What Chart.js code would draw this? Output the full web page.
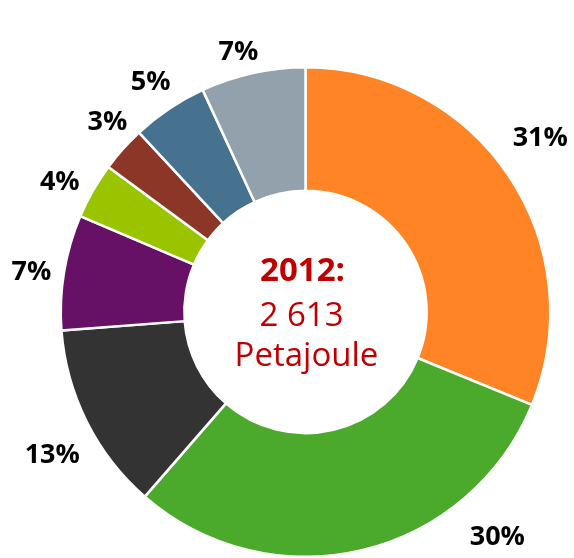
<!DOCTYPE html>
<html>
<head>
<meta charset="utf-8">
<script src="https://cdn.jsdelivr.net/npm/chart.js@4"></script>
<style>
  html, body { margin: 0; padding: 0; background: #fff; }
  #wrap { width: 574px; height: 558px; position: relative; }
</style>
</head>
<body>
<div id="wrap"><canvas id="chart"></canvas></div>
<script>
// Energy mix 2012, share of total (percent)
const categories = ['A', 'B', 'C', 'D', 'E', 'F', 'G', 'H'];
const shares = [31.2, 30.2, 12.4, 7.6, 3.7, 3.0, 5.0, 6.9];
const labelTexts = ['31%', '30%', '13%', '7%', '4%', '3%', '5%', '7%'];
const sliceColors = ['#FF8426', '#4BAA2B', '#333333', '#661166', '#9BC400', '#8B3626', '#47728F', '#93A1AD'];
const centerLines = ['2012:', '2 613', 'Petajoule'];

// outside labels, Excel-style (angle in degrees from 12 o'clock, distance from centre)
const outsideLabels = {
  id: 'outsideLabels',
  afterDatasetsDraw(chart, args, opts) {
    const ctx = chart.ctx;
    const meta = chart.getDatasetMeta(0);
    ctx.save();
    ctx.font = 'bold 27px "Open Sans"';
    ctx.fillStyle = '#000';
    ctx.textAlign = 'center';
    ctx.textBaseline = 'middle';
    meta.data.forEach((arc, i) => {
      const p = arc.getProps(['x', 'y', 'startAngle', 'endAngle', 'outerRadius'], true);
      let a = (p.startAngle + p.endAngle) / 2;
      const w = ctx.measureText(labelTexts[i]).width / 2;
      let r = p.outerRadius + opts.gap + Math.abs(Math.cos(a)) * w + Math.abs(Math.sin(a)) * 10;
      const o = opts.placement[i];
      if (o) {
        a = (o.angle - 90) * Math.PI / 180;
        r = o.radius;
      }
      ctx.fillText(labelTexts[i], p.x + Math.cos(a) * r, p.y + Math.sin(a) * r);
    });
    ctx.restore();
  }
};

const centerText = {
  id: 'centerText',
  afterDraw(chart) {
    const ctx = chart.ctx;
    const meta = chart.getDatasetMeta(0);
    const cx = meta.data[0].x;
    const cy = meta.data[0].y;
    ctx.save();
    ctx.fillStyle = '#C00000';
    ctx.textAlign = 'center';
    ctx.textBaseline = 'middle';
    ctx.font = 'bold 33px "Open Sans"';
    ctx.fillText(centerLines[0], cx - 3, cy - 40);
    ctx.font = '33px "Open Sans"';
    ctx.fillText(centerLines[1], cx - 4, cy + 5);
    ctx.fillText(centerLines[2], cx + 1, cy + 45);
    ctx.restore();
  }
};

new Chart(document.getElementById('chart'), {
  type: 'doughnut',
  data: {
    labels: categories,
    datasets: [{
      data: shares,
      backgroundColor: sliceColors,
      borderColor: '#fff',
      borderWidth: 2.5
    }]
  },
  options: {
    responsive: true,
    maintainAspectRatio: false,
    animation: false,
    cutout: '49.5%',
    layout: { padding: { left: 57, right: 20, top: 66, bottom: -5 } },
    plugins: {
      legend: { display: false },
      tooltip: { enabled: false },
      outsideLabels: {
        gap: 13,
        placement: {
          0: { angle: 53.5, radius: 292 },
          1: { angle: 139.6, radius: 296 },
          2: { angle: 240.5, radius: 291 },
          3: { angle: 278.3, radius: 277 },
          4: { angle: 297.9, radius: 278 },
          5: { angle: 313.7, radius: 274 },
          6: { angle: 326, radius: 277 },
          7: { angle: 345.5, radius: 268 }
        }
      }
    }
  },
  plugins: [outsideLabels, centerText]
});
</script>
</body>
</html>
